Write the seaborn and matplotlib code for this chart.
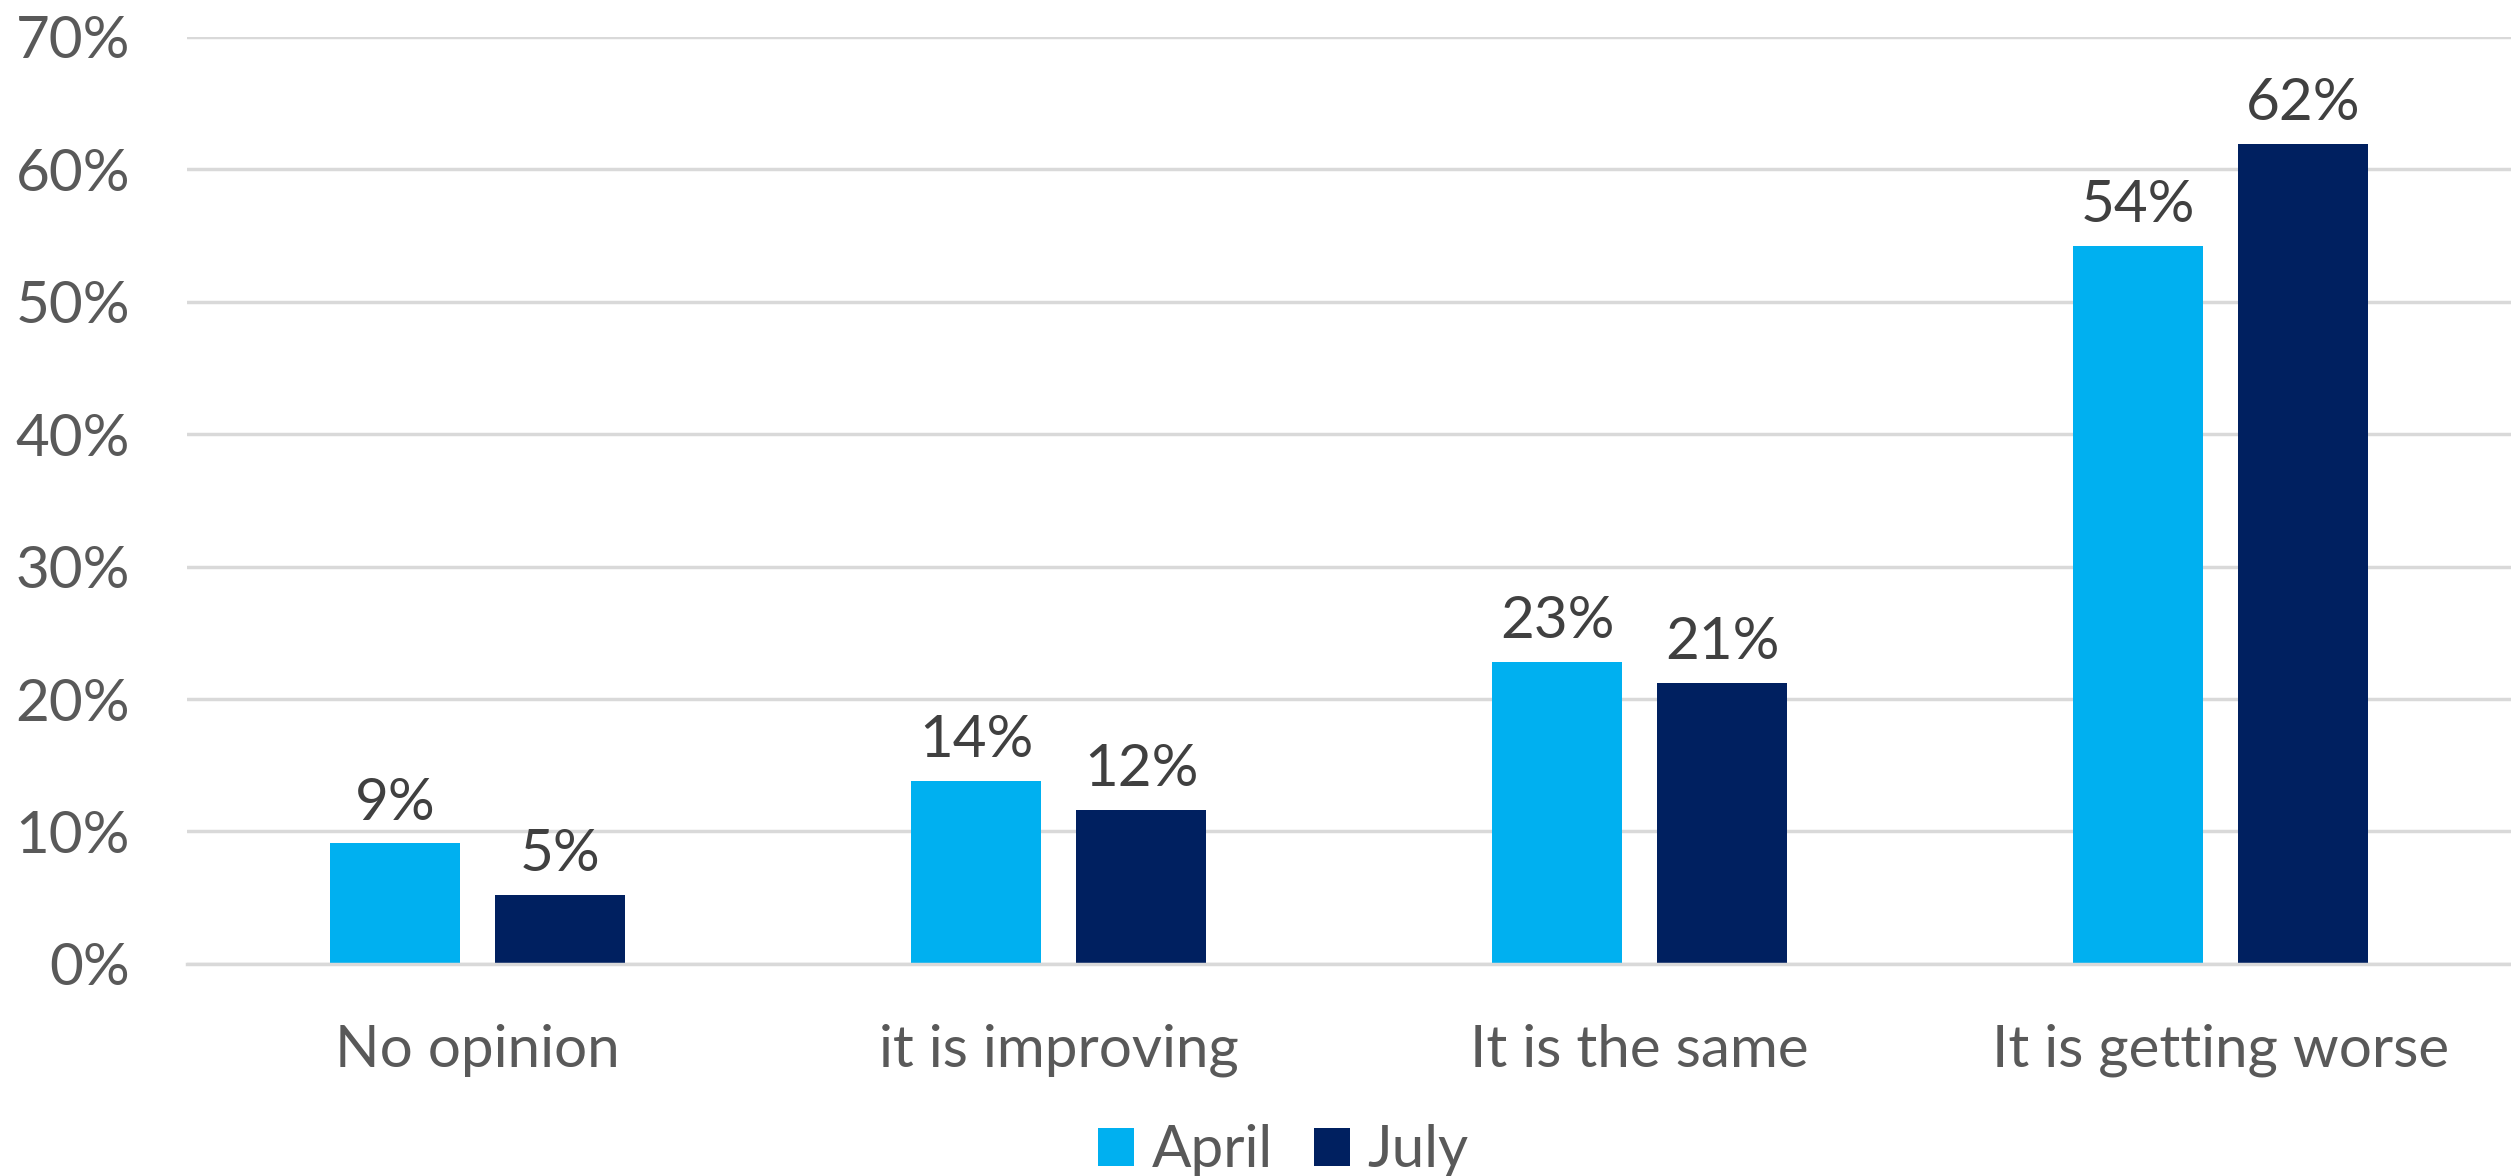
import matplotlib
matplotlib.use("Agg")
import matplotlib.pyplot as plt
import seaborn as sns
import pandas as pd

categories = ["No opinion", "it is improving", "It is the same", "It is getting worse"]
series_names = ["April", "July"]
april = [0.091, 0.138, 0.228, 0.542]
july = [0.052, 0.116, 0.212, 0.619]
y_ticks = [0.0, 0.1, 0.2, 0.3, 0.4, 0.5, 0.6, 0.7]
y_tick_labels = ["0%", "10%", "20%", "30%", "40%", "50%", "60%", "70%"]
colors = ["#00B0F0", "#002060"]

sns.set_theme(style="white")
plt.rcParams['font.family'] = ['Lato', 'DejaVu Sans']

df = pd.DataFrame({
    "category": categories * 2,
    "period": [series_names[0]] * len(categories) + [series_names[1]] * len(categories),
    "value": april + july,
})

fig = plt.figure(figsize=(25.11, 11.76), dpi=100)
ax = fig.add_axes([0.0745, 0.1803, 0.9255, 0.7885])
sns.barplot(data=df, x="category", y="value", hue="period", order=categories,
            hue_order=series_names, palette=colors, width=0.568, gap=0.214,
            saturation=1, errorbar=None, linewidth=0, ax=ax)

ax.set_xlim(-0.5, 3.5)
ax.set_ylim(0, 0.7)
ax.set_yticks(y_ticks)
ax.set_yticklabels(y_tick_labels)
ax.set_xlabel("")
ax.set_ylabel("")
ax.grid(axis="y", color="#D9D9D9", linewidth=2.5)
ax.set_axisbelow(True)
for s in ["top", "right", "left"]:
    ax.spines[s].set_visible(False)
ax.spines["bottom"].set_color("#D9D9D9")
ax.spines["bottom"].set_linewidth(2.5)
ax.tick_params(axis="y", length=0, labelsize=42, labelcolor="#595959", pad=41)
ax.tick_params(axis="x", length=0, labelsize=42, labelcolor="#595959", pad=43)

for cont in ax.containers:
    ax.bar_label(cont, labels=[f"{v*100:.0f}%" for v in cont.datavalues],
                 padding=10, fontsize=42, color="#404040")

handles, labels = ax.get_legend_handles_labels()
ax.get_legend().remove()
fig.legend(handles, labels, loc="lower center", bbox_to_anchor=(0.511, -0.026), ncol=2,
           frameon=False, fontsize=42, handlelength=0.62, handleheight=0.62,
           handletextpad=0.3, columnspacing=0.7, labelcolor="#595959", borderpad=0)

fig.savefig("out.png", dpi=100)
